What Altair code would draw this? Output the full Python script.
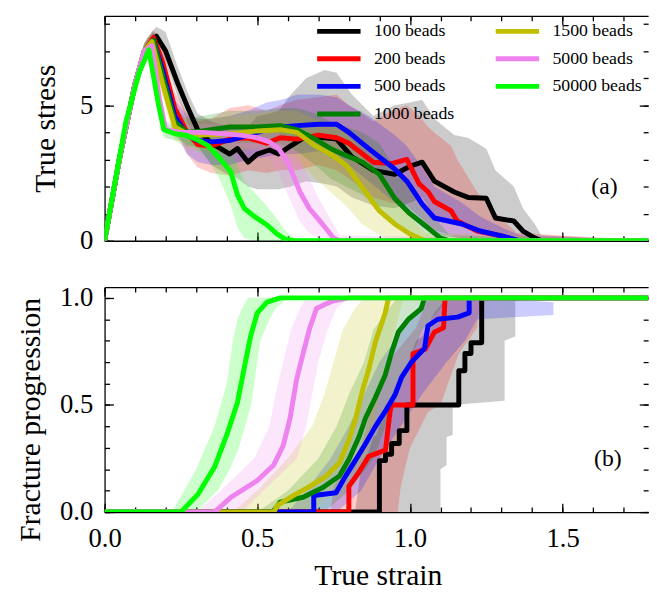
import altair as alt
import pandas as pd

FONT = "Liberation Serif"

SERIES = ["100 beads", "200 beads", "500 beads", "1000 beads",
          "1500 beads", "5000 beads", "50000 beads"]
COLORS = ["#000000", "#ff0000", "#0000ff", "#008000",
          "#bfbf00", "#ee82ee", "#00ff00"]

X_MAJOR = [0.0, 0.5, 1.0, 1.5]
X_MINOR = [0.0, 0.1, 0.2, 0.3, 0.4, 0.5, 0.6, 0.7, 0.8, 0.9,
           1.0, 1.1, 1.2, 1.3, 1.4, 1.5, 1.6, 1.7]
YA_MAJOR = [0, 5]
YA_MINOR = [0, 1, 2, 3, 4, 5, 6, 7, 8]
YB_MAJOR = [0.0, 0.5, 1.0]
YB_MINOR = [0.0, 0.1, 0.2, 0.3, 0.4, 0.5, 0.6, 0.7, 0.8, 0.9, 1.0]

# ---------------- (a) true stress: ensemble mean and spread ----------------
A_X_100 = [0, 0.05, 0.10, 0.14, 0.17, 0.20, 0.24, 0.275, 0.305, 0.35, 0.41, 0.435,
           0.47, 0.50, 0.54, 0.57, 0.61, 0.66, 0.72, 0.76, 0.81, 0.88, 0.95, 1.0,
           1.04, 1.08, 1.145, 1.19, 1.25, 1.28, 1.34, 1.37, 1.41, 1.43, 1.8]
A_MEAN_100 = [0, 3.1, 5.8, 7.1, 7.55, 7.0, 5.8, 4.85, 4.1, 3.6, 3.2, 3.4,
              2.9, 3.2, 3.35, 3.2, 3.5, 3.85, 3.8, 3.75, 3.1, 2.6, 2.45, 2.75,
              2.9, 2.2, 1.8, 1.6, 1.57, 0.84, 0.73, 0.36, 0.1, 0, 0]
A_LO_100 = [0, 2.9, 5.5, 6.8, 7.2, 6.6, 5.3, 4.3, 3.5, 2.8, 2.4, 2.3,
            2.0, 1.9, 1.9, 1.9, 2.0, 2.2, 2.1, 2.0, 1.6, 1.3, 1.2, 1.4,
            1.6, 0.9, 0.6, 0.5, 0.4, 0.1, 0, 0, 0, 0, 0]
A_HI_100 = [0, 3.3, 6.1, 7.5, 7.9, 7.7, 6.4, 5.4, 4.7, 4.4, 4.2, 4.3,
            4.2, 4.6, 4.7, 4.8, 5.4, 6.0, 6.3, 6.2, 5.4, 4.6, 5.0, 5.1,
            5.2, 4.5, 3.9, 3.8, 3.4, 2.6, 2.0, 1.2, 0.6, 0.2, 0]

A_X_200 = [0, 0.05, 0.10, 0.13, 0.16, 0.19, 0.23, 0.27, 0.305, 0.35, 0.41, 0.47,
           0.53, 0.575, 0.63, 0.70, 0.76, 0.80, 0.845, 0.88, 0.94, 0.99, 1.03,
           1.06, 1.08, 1.135, 1.155, 1.22, 1.30, 1.35, 1.8]
A_MEAN_200 = [0, 3.1, 5.8, 7.0, 7.5, 6.6, 4.9, 4.0, 3.55, 3.5, 3.75, 3.8,
              3.6, 3.8, 3.75, 3.9, 3.8, 3.6, 3.2, 2.9, 2.85, 3.0, 2.1,
              1.8, 1.45, 1.1, 0.73, 0.36, 0.18, 0, 0]
A_LO_200 = [0, 2.9, 5.5, 6.7, 7.2, 6.1, 4.3, 3.2, 2.7, 2.5, 2.4, 2.6,
            2.5, 2.6, 2.6, 2.8, 2.6, 2.3, 1.9, 1.6, 1.4, 1.3, 0.9,
            0.6, 0.4, 0.2, 0.1, 0, 0, 0, 0]
A_HI_200 = [0, 3.3, 6.1, 7.3, 7.8, 7.1, 5.5, 4.7, 4.4, 4.5, 4.9, 5.0,
            4.8, 5.0, 5.2, 5.3, 5.4, 5.0, 4.7, 4.4, 4.8, 5.0, 4.6,
            4.2, 4.0, 3.5, 3.0, 1.8, 0.8, 0.3, 0]

A_X_500 = [0, 0.05, 0.10, 0.13, 0.16, 0.19, 0.23, 0.27, 0.305, 0.35, 0.41, 0.47,
           0.53, 0.58, 0.63, 0.70, 0.76, 0.80, 0.865, 0.95, 0.99, 1.04, 1.08,
           1.17, 1.23, 1.30, 1.36, 1.8]
A_MEAN_500 = [0, 3.1, 5.8, 7.0, 7.4, 6.3, 4.6, 3.9, 3.7, 3.65, 3.7, 3.9,
              4.1, 4.2, 4.25, 4.3, 4.3, 4.0, 3.4, 2.65, 2.2, 1.35, 0.84,
              0.62, 0.36, 0.18, 0, 0]
A_LO_500 = [0, 2.9, 5.5, 6.7, 7.1, 5.8, 4.0, 3.2, 2.9, 2.8, 2.8, 3.0,
            3.1, 3.2, 3.2, 3.3, 3.2, 2.8, 2.2, 1.4, 1.0, 0.5, 0.2,
            0.1, 0, 0, 0, 0]
A_HI_500 = [0, 3.3, 6.1, 7.3, 7.7, 6.8, 5.2, 4.6, 4.5, 4.5, 4.6, 4.8,
            5.1, 5.2, 5.4, 5.4, 5.3, 5.0, 4.6, 3.9, 3.5, 2.7, 2.0,
            1.4, 0.9, 0.5, 0.2, 0]

A_X_1000 = [0, 0.05, 0.10, 0.13, 0.16, 0.19, 0.23, 0.27, 0.32, 0.41, 0.5, 0.575,
            0.63, 0.69, 0.74, 0.79, 0.845, 0.9, 0.95, 1.0, 1.06, 1.10, 1.13, 1.8]
A_MEAN_1000 = [0, 3.1, 5.8, 7.0, 7.4, 6.1, 4.4, 4.0, 4.05, 4.2, 4.2, 4.25,
               4.1, 3.75, 3.4, 3.15, 2.9, 2.45, 1.57, 1.0, 0.47, 0.1, 0, 0]
A_LO_1000 = [0, 2.9, 5.5, 6.7, 7.1, 5.6, 3.9, 3.5, 3.5, 3.6, 3.6, 3.6,
             3.3, 2.8, 2.3, 2.0, 1.7, 1.2, 0.6, 0.3, 0.05, 0, 0, 0]
A_HI_1000 = [0, 3.3, 6.1, 7.3, 7.7, 6.6, 4.9, 4.5, 4.6, 4.8, 4.8, 4.9,
             4.9, 4.7, 4.4, 4.2, 4.0, 3.6, 2.7, 2.0, 1.2, 0.6, 0.2, 0]

A_X_1500 = [0, 0.05, 0.10, 0.13, 0.155, 0.19, 0.23, 0.27, 0.32, 0.41, 0.5,
            0.575, 0.63, 0.69, 0.74, 0.79, 0.845, 0.9, 0.95, 1.0, 1.05, 1.8]
A_MEAN_1500 = [0, 3.1, 5.8, 7.0, 7.35, 5.8, 4.2, 3.95, 3.9, 3.95, 4.05,
               4.1, 4.0, 3.5, 3.2, 2.8, 1.95, 1.1, 0.62, 0.25, 0, 0]
A_LO_1500 = [0, 2.9, 5.5, 6.7, 7.0, 5.3, 3.7, 3.4, 3.3, 3.3, 3.4,
             3.3, 3.0, 2.3, 1.8, 1.3, 0.6, 0.2, 0, 0, 0, 0]
A_HI_1500 = [0, 3.3, 6.1, 7.3, 7.7, 6.3, 4.7, 4.5, 4.5, 4.6, 4.7,
             4.8, 4.8, 4.5, 4.3, 4.0, 3.3, 2.3, 1.6, 0.9, 0.3, 0]

A_X_5000 = [0, 0.05, 0.10, 0.13, 0.155, 0.18, 0.2, 0.25, 0.32, 0.39, 0.445,
            0.5, 0.54, 0.57, 0.6, 0.64, 0.67, 0.7, 0.725, 0.75, 0.77, 1.8]
A_MEAN_5000 = [0, 3.1, 5.8, 7.0, 7.2, 5.2, 4.1, 4.0, 4.0, 3.95, 3.9,
               3.8, 3.65, 3.4, 2.9, 1.8, 1.2, 0.8, 0.45, 0.1, 0, 0]
A_LO_5000 = [0, 2.9, 5.5, 6.7, 6.9, 4.8, 3.8, 3.7, 3.7, 3.6, 3.5,
             3.3, 3.0, 2.5, 1.7, 0.7, 0.3, 0.1, 0, 0, 0, 0]
A_HI_5000 = [0, 3.3, 6.1, 7.3, 7.5, 5.6, 4.4, 4.3, 4.3, 4.3, 4.2,
             4.2, 4.1, 4.0, 3.7, 3.0, 2.3, 1.6, 1.1, 0.6, 0.2, 0]

A_X_50000 = [0, 0.03, 0.07, 0.113, 0.145, 0.177, 0.194, 0.23, 0.265, 0.30, 0.34,
             0.38, 0.413, 0.435, 0.457, 0.49, 0.53, 0.565, 0.59, 0.62, 1.8]
A_MEAN_50000 = [0, 1.9, 4.4, 6.2, 7.05, 5.0, 4.1, 3.95, 3.9, 3.75, 3.5,
                3.0, 2.55, 1.7, 1.2, 0.9, 0.6, 0.25, 0.07, 0, 0]
A_LO_50000 = [0, 1.8, 4.2, 6.0, 6.8, 4.6, 3.8, 3.7, 3.65, 3.4, 3.0,
              2.2, 1.3, 0.5, 0.1, 0, 0, 0, 0, 0, 0]
A_HI_50000 = [0, 2.0, 4.6, 6.4, 7.3, 5.4, 4.4, 4.2, 4.15, 4.05, 3.9,
              3.6, 3.3, 2.8, 2.2, 1.8, 1.3, 0.8, 0.4, 0.1, 0]

# ---------------- (b) fracture progression ----------------
B_X_100 = [0, 0.9, 0.9, 0.92, 0.92, 0.94, 0.94, 0.965, 0.965, 0.99, 0.99,
           1.16, 1.16, 1.18, 1.18, 1.2, 1.2, 1.235, 1.235, 1.8]
B_Y_100 = [0, 0, 0.24, 0.24, 0.27, 0.27, 0.32, 0.32, 0.38, 0.38, 0.5,
           0.5, 0.66, 0.66, 0.74, 0.74, 0.79, 0.79, 1.0, 1.0]
B_X_200 = [0, 0.80, 0.80, 0.83, 0.865, 0.92, 0.935, 0.94, 1.01, 1.01, 1.05,
           1.08, 1.11, 1.115, 1.8]
B_Y_200 = [0, 0, 0.12, 0.18, 0.26, 0.29, 0.47, 0.5, 0.5, 0.74, 0.76,
           0.84, 0.86, 1.0, 1.0]
B_X_500 = [0, 0.685, 0.685, 0.758, 0.79, 0.823, 0.855, 0.887, 0.919, 0.952,
           0.973, 1.005, 1.048, 1.059, 1.091, 1.156, 1.194, 1.194, 1.8]
B_Y_500 = [0, 0, 0.077, 0.09, 0.17, 0.245, 0.32, 0.40, 0.47, 0.55,
           0.63, 0.70, 0.765, 0.87, 0.90, 0.91, 0.93, 1.0, 1.0]
B_X_1000 = [0, 0.55, 0.575, 0.65, 0.715, 0.769, 0.80, 0.833, 0.855, 0.887,
            0.919, 0.941, 0.962, 0.995, 1.037, 1.048, 1.8]
B_Y_1000 = [0, 0, 0.046, 0.069, 0.115, 0.168, 0.245, 0.35, 0.44, 0.535,
            0.64, 0.75, 0.84, 0.90, 0.95, 1.0, 1.0]
B_X_1500 = [0, 0.555, 0.565, 0.618, 0.672, 0.726, 0.769, 0.80, 0.823, 0.844,
            0.866, 0.887, 0.909, 0.919, 0.93, 1.8]
B_Y_1500 = [0, 0, 0.03, 0.077, 0.12, 0.168, 0.23, 0.336, 0.44, 0.565,
            0.67, 0.795, 0.887, 0.93, 1.0, 1.0]
B_X_5000 = [0, 0.36, 0.414, 0.5, 0.554, 0.585, 0.607, 0.629, 0.65, 0.672,
            0.694, 0.715, 0.747, 0.80, 1.8]
B_Y_5000 = [0, 0, 0.069, 0.147, 0.22, 0.31, 0.435, 0.62, 0.74, 0.86,
            0.95, 0.965, 0.985, 1.0, 1.0]
B_X_50000 = [0, 0.25, 0.306, 0.36, 0.40, 0.435, 0.457, 0.478, 0.50, 0.532,
             0.575, 1.8]
B_Y_50000 = [0, 0, 0.083, 0.21, 0.36, 0.51, 0.67, 0.82, 0.93, 0.98,
             1.0, 1.0]

# spread of (b): strain range at each progression level
B_LEVEL_100 = [0.0, 0.2, 0.22, 0.35, 0.36, 0.5, 0.52, 0.8, 0.82, 0.93, 1.0]
B_LO_100 = [0.82, 0.84, 0.85, 0.88, 0.89, 0.92, 0.95, 1.02, 1.04, 1.08, 1.12]
B_HI_100 = [1.10, 1.10, 1.12, 1.12, 1.14, 1.14, 1.31, 1.31, 1.345, 1.345, 1.345]
B_LEVEL_200 = [0, 0.12, 0.3, 0.47, 0.5, 0.74, 0.86, 1.0]
B_LO_200 = [0.74, 0.75, 0.84, 0.87, 0.88, 0.95, 1.02, 1.06]
B_HI_200 = [0.96, 0.97, 1.0, 1.06, 1.10, 1.16, 1.22, 1.23]
B_LEVEL_500 = [0, 0.1, 0.25, 0.4, 0.55, 0.7, 0.8, 0.9, 0.92, 0.98, 1.0]
B_LO_500 = [0.60, 0.66, 0.74, 0.80, 0.85, 0.90, 0.95, 1.0, 1.01, 1.04, 1.05]
B_HI_500 = [0.76, 0.84, 0.90, 0.97, 1.04, 1.12, 1.18, 1.22, 1.47, 1.47, 1.25]
B_LEVEL_1000 = [0, 0.1, 0.25, 0.4, 0.55, 0.7, 0.85, 0.95, 1.0]
B_LO_1000 = [0.50, 0.60, 0.70, 0.76, 0.80, 0.85, 0.88, 0.93, 0.96]
B_HI_1000 = [0.72, 0.80, 0.88, 0.92, 0.96, 1.0, 1.04, 1.10, 1.12]
B_LEVEL_1500 = [0, 0.1, 0.25, 0.4, 0.55, 0.7, 0.85, 0.95, 1.0]
B_LO_1500 = [0.42, 0.50, 0.60, 0.68, 0.72, 0.75, 0.78, 0.82, 0.85]
B_HI_1500 = [0.68, 0.74, 0.85, 0.88, 0.90, 0.92, 0.95, 0.97, 0.98]
B_LEVEL_5000 = [0, 0.1, 0.25, 0.4, 0.55, 0.7, 0.85, 0.95, 1.0]
B_LO_5000 = [0.30, 0.38, 0.49, 0.54, 0.56, 0.585, 0.61, 0.64, 0.66]
B_HI_5000 = [0.45, 0.52, 0.63, 0.66, 0.68, 0.70, 0.73, 0.76, 0.80]
B_LEVEL_50000 = [0, 0.1, 0.2, 0.3, 0.4, 0.5, 0.6, 0.7, 0.8, 0.9, 0.95, 1.0]
B_LO_50000 = [0.22, 0.26, 0.30, 0.33, 0.36, 0.38, 0.40, 0.41, 0.42, 0.435, 0.45, 0.47]
B_HI_50000 = [0.30, 0.37, 0.41, 0.44, 0.46, 0.48, 0.49, 0.50, 0.51, 0.54, 0.56, 0.60]

STRESS_SETS = [
    ("100 beads", A_X_100, A_MEAN_100, A_LO_100, A_HI_100),
    ("200 beads", A_X_200, A_MEAN_200, A_LO_200, A_HI_200),
    ("500 beads", A_X_500, A_MEAN_500, A_LO_500, A_HI_500),
    ("1000 beads", A_X_1000, A_MEAN_1000, A_LO_1000, A_HI_1000),
    ("1500 beads", A_X_1500, A_MEAN_1500, A_LO_1500, A_HI_1500),
    ("5000 beads", A_X_5000, A_MEAN_5000, A_LO_5000, A_HI_5000),
    ("50000 beads", A_X_50000, A_MEAN_50000, A_LO_50000, A_HI_50000),
]
FRACTURE_SETS = [
    ("100 beads", B_X_100, B_Y_100),
    ("200 beads", B_X_200, B_Y_200),
    ("500 beads", B_X_500, B_Y_500),
    ("1000 beads", B_X_1000, B_Y_1000),
    ("1500 beads", B_X_1500, B_Y_1500),
    ("5000 beads", B_X_5000, B_Y_5000),
    ("50000 beads", B_X_50000, B_Y_50000),
]
FRACTURE_BANDS = [
    ("100 beads", B_LEVEL_100, B_LO_100, B_HI_100),
    ("200 beads", B_LEVEL_200, B_LO_200, B_HI_200),
    ("500 beads", B_LEVEL_500, B_LO_500, B_HI_500),
    ("1000 beads", B_LEVEL_1000, B_LO_1000, B_HI_1000),
    ("1500 beads", B_LEVEL_1500, B_LO_1500, B_HI_1500),
    ("5000 beads", B_LEVEL_5000, B_LO_5000, B_HI_5000),
    ("50000 beads", B_LEVEL_50000, B_LO_50000, B_HI_50000),
]

SHADE = dict(zip(SERIES, COLORS))

stress_rows = []
for name, xs, ms, los, his in STRESS_SETS:
    for i, (x, m, lo, hi) in enumerate(zip(xs, ms, los, his)):
        stress_rows.append({"series": name, "shade": SHADE[name], "strain": x,
                            "stress": m, "lo": lo, "hi": hi, "i": i})
stress_df = pd.DataFrame(stress_rows)

frac_rows = []
for name, xs, ys in FRACTURE_SETS:
    for i, (x, y) in enumerate(zip(xs, ys)):
        frac_rows.append({"series": name, "strain": x, "frac": y, "i": i})
frac_df = pd.DataFrame(frac_rows)

band_rows = []
for name, levels, los, his in FRACTURE_BANDS:
    for lv, lo, hi in zip(levels, los, his):
        band_rows.append({"series": name, "shade": SHADE[name], "frac": lv,
                          "lo": lo, "hi": hi})
band_df = pd.DataFrame(band_rows)

PLOT_W = 551
PLOT_H = 228
MAJOR = 9
MINOR = 5
LINE_W = 5

COLOR = alt.Scale(domain=SERIES, range=COLORS)
XS = alt.Scale(domain=[0, 1.78], nice=False, zero=False)
YS_A = alt.Scale(domain=[0, 8.3], nice=False)
YS_B = alt.Scale(domain=[0, 1.05], nice=False)

# two columns, filled top to bottom; the legend swatch is a flat path twice
# as wide as the symbol cell, so rows stay tight while the swatch stays long
LEGEND = alt.Legend(
    title=None, orient="none", legendX=213, legendY=2, columns=2,
    values=SERIES, symbolType="M-2,0H2", symbolSize=484, symbolOffset=11,
    symbolStrokeWidth=5, symbolOpacity=1, labelFont=FONT, labelFontSize=18,
    labelColor="black", labelOffset=22, rowPadding=4, columnPadding=31)


def ticks(orient, values, size, domain=False, **extra):
    """Axis whose ticks point into the plot area."""
    return alt.Axis(orient=orient, values=values, tickSize={"expr": f"-{size}"},
                    domain=domain, grid=False, labelFlush=False,
                    labelOverlap=False, labels=extra.pop("labels", False),
                    title=extra.pop("title", None), **extra)


# spread bands take their colour straight from the data, so they add no legend
band_fill = alt.Fill("shade:N", scale=None)

# ---------------- panel (a) ----------------
bands_a = alt.Chart(stress_df).mark_area(opacity=0.2, clip=True).encode(
    x=alt.X("strain:Q", scale=XS, axis=ticks("bottom", X_MAJOR, MAJOR, domain=True)),
    y=alt.Y("lo:Q", scale=YS_A, stack=None,
            axis=ticks("left", YA_MAJOR, MAJOR, domain=True, labels=True,
                       labelPadding=21, format="d", title="True stress",
                       titleX=-60, titleY=114, titleAngle=270,
                       titleBaseline="middle", titleAlign="center")),
    y2="hi:Q",
    fill=band_fill,
    detail="series:N",
)

lines_a = alt.Chart(stress_df).mark_line(strokeWidth=LINE_W, clip=True,
                                         strokeJoin="round").encode(
    x=alt.X("strain:Q", scale=XS, axis=ticks("top", X_MAJOR, MAJOR, domain=True)),
    y=alt.Y("stress:Q", scale=YS_A, axis=ticks("right", YA_MAJOR, MAJOR)),
    color=alt.Color("series:N", scale=COLOR, legend=LEGEND),
    order="i:Q",
)

tag_a = alt.Chart(pd.DataFrame({"strain": [1.637], "stress": [1.97],
                                "tag": ["(a)"]})).mark_text(
    font=FONT, fontSize=24, color="black").encode(
    x=alt.X("strain:Q", scale=XS, axis=ticks("bottom", X_MINOR, MINOR)),
    y=alt.Y("stress:Q", scale=YS_A, axis=ticks("left", YA_MINOR, MINOR)),
    text="tag:N",
)

ghost_a = alt.Chart(stress_df).mark_point(opacity=0).encode(
    x=alt.X("strain:Q", scale=XS, axis=ticks("top", X_MINOR, MINOR)),
    y=alt.Y("stress:Q", scale=YS_A, axis=ticks("right", YA_MINOR, MINOR)),
)

panel_a = alt.layer(bands_a, lines_a, tag_a, ghost_a).resolve_axis(
    x="independent", y="independent").properties(width=PLOT_W, height=PLOT_H)

# ---------------- panel (b) ----------------
bands_b = alt.Chart(band_df).mark_area(opacity=0.2, clip=True,
                                       orient="horizontal").encode(
    y=alt.Y("frac:Q", scale=YS_B,
            axis=ticks("left", YB_MAJOR, MAJOR, domain=True, labels=True,
                       labelPadding=21, format=".1f",
                       title="Fracture progression", titleX=-75, titleY=134,
                       titleAngle=270, titleBaseline="middle",
                       titleAlign="center")),
    x=alt.X("lo:Q", scale=XS, stack=None,
            axis=ticks("bottom", X_MAJOR, MAJOR, domain=True, labels=True,
                       labelPadding=23, format=".1f", title="True strain",
                       titleX=277, titleY=73, titleBaseline="alphabetic",
                       titleAlign="center")),
    x2="hi:Q",
    fill=band_fill,
    detail="series:N",
)

lines_b = alt.Chart(frac_df).mark_line(strokeWidth=LINE_W, clip=True,
                                       strokeJoin="round").encode(
    x=alt.X("strain:Q", scale=XS, axis=ticks("top", X_MAJOR, MAJOR, domain=True)),
    y=alt.Y("frac:Q", scale=YS_B, axis=ticks("right", YB_MAJOR, MAJOR)),
    color=alt.Color("series:N", scale=COLOR, legend=LEGEND),
    order="i:Q",
)

tag_b = alt.Chart(pd.DataFrame({"strain": [1.648], "frac": [0.245],
                                "tag": ["(b)"]})).mark_text(
    font=FONT, fontSize=24, color="black").encode(
    x=alt.X("strain:Q", scale=XS, axis=ticks("bottom", X_MINOR, MINOR)),
    y=alt.Y("frac:Q", scale=YS_B, axis=ticks("left", YB_MINOR, MINOR)),
    text="tag:N",
)

ghost_b = alt.Chart(frac_df).mark_point(opacity=0).encode(
    x=alt.X("strain:Q", scale=XS, axis=ticks("top", X_MINOR, MINOR)),
    y=alt.Y("frac:Q", scale=YS_B, axis=ticks("right", YB_MINOR, MINOR)),
)

panel_b = alt.layer(bands_b, lines_b, tag_b, ghost_b).resolve_axis(
    x="independent", y="independent").properties(width=PLOT_W, height=PLOT_H)

chart = alt.vconcat(panel_a, panel_b, spacing=47, bounds="flush").resolve_scale(
    color="shared").properties(
    padding={"left": 15, "top": 11, "right": 0, "bottom": 0},
).configure_axis(
    labelFont=FONT, titleFont=FONT, labelFontSize=27, titleFontSize=30,
    labelColor="black", titleColor="black", tickColor="black",
    domainColor="black", tickWidth=1.3, domainWidth=1.3,
    titleFontWeight="normal",
).configure_view(stroke=None)

chart.save("out.html", embed_options={"renderer": "svg", "actions": False})
